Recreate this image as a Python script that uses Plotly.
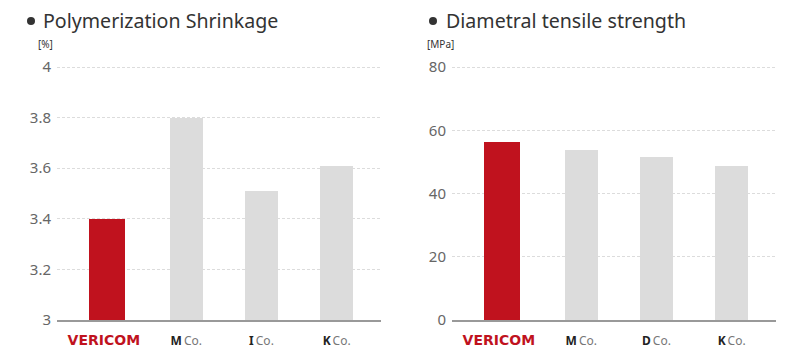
import plotly.graph_objects as go

# ---- data ----
shrink_companies = ["VERICOM", "M", "I", "K"]
shrink_values = [3.40, 3.80, 3.51, 3.61]
shrink_ticks = [3, 3.2, 3.4, 3.6, 3.8, 4]
shrink_tick_labels = ["3", "3.2", "3.4", "3.6", "3.8", "4"]

dts_companies = ["VERICOM", "M", "D", "K"]
dts_values = [56.3, 53.8, 51.4, 48.7]
dts_ticks = [0, 20, 40, 60, 80]
dts_tick_labels = ["0", "20", "40", "60", "80"]

titles = ["Polymerization Shrinkage", "Diametral tensile strength"]
units = ["[%]", "[MPa]"]

# ---- style ----
W, H = 809, 363
RED = "#C0121E"
GREY = "#DCDCDC"
FONT = "Noto Sans"


def fmt_label(c):
    if c == "VERICOM":
        return ("<span style='font-family:DejaVu Sans;font-weight:bold;font-size:14px;color:%s'>VERICOM\u00a0\u00a0\u00a0</span>" % RED)
    return ("<span style='color:#222;font-weight:bold'>%s</span>\u2009<span style='color:#777'>Co.</span>" % c)


def colors(cs):
    return [RED if c == "VERICOM" else GREY for c in cs]


def widths(cs):
    return [0.479 if c == "VERICOM" else 0.431 for c in cs]


def offsets(cs):
    return [-0.292 if c == "VERICOM" else -0.2155 for c in cs]


fig = go.Figure()
fig.add_trace(go.Bar(x=shrink_companies, y=shrink_values, marker=dict(color=colors(shrink_companies), line=dict(width=0)),
                     width=widths(shrink_companies), offset=offsets(shrink_companies),
                     xaxis="x", yaxis="y", showlegend=False, hoverinfo="skip"))
fig.add_trace(go.Bar(x=dts_companies, y=dts_values, marker=dict(color=colors(dts_companies), line=dict(width=0)),
                     width=widths(dts_companies), offset=offsets(dts_companies),
                     xaxis="x2", yaxis="y2", showlegend=False, hoverinfo="skip"))

xdom1 = [57 / W, 381 / W]
xdom2 = [452 / W, 776 / W]
PAD = 3  # px of headroom so the top gridline is drawn
ydom = [1 - 320 / H, 1 - (67 - PAD) / H]
pxh = 253.0

common_x = dict(type="category", showgrid=False, showline=True, linecolor="#999", linewidth=1.5,
                ticks="outside", ticklen=9, tickcolor="rgba(0,0,0,0)", automargin=False,
                tickfont=dict(family=FONT, size=12, color="#222"), range=[-0.72, 3.59], fixedrange=True)
common_y = dict(showgrid=True, gridcolor="#dcdcdc", griddash="3px,2px", gridwidth=1, zeroline=False,
                showline=False, ticks="", ticklabelstandoff=5, automargin=False,
                tickfont=dict(family=FONT, size=15, color="#666"), fixedrange=True)

fig.update_layout(
    width=W, height=H,
    margin=dict(l=0, r=0, t=0, b=0, autoexpand=False),
    paper_bgcolor="white", plot_bgcolor="white",
    bargap=0,
    xaxis=dict(domain=xdom1, anchor="y", tickvals=shrink_companies,
               ticktext=[fmt_label(c) for c in shrink_companies], **common_x),
    xaxis2=dict(domain=xdom2, anchor="y2", tickvals=dts_companies,
                ticktext=[fmt_label(c) for c in dts_companies], **common_x),
    yaxis=dict(domain=ydom, anchor="x", range=[3, 4 + PAD * 1 / pxh], tickvals=shrink_ticks,
               ticktext=shrink_tick_labels, **common_y),
    yaxis2=dict(domain=ydom, anchor="x2", range=[0, 80 + PAD * 80 / pxh], tickvals=dts_ticks,
                ticktext=dts_tick_labels, **common_y),
)

title_x = [41, 444]
bullet_x = [27, 429]
unit_x = [36, 425]
for t, u, tx, bx, ux in zip(titles, units, title_x, bullet_x, unit_x):
    fig.add_shape(type="circle", xref="paper", yref="paper",
                  x0=bx / W, x1=(bx + 8) / W, y0=1 - 25 / H, y1=1 - 17 / H,
                  fillcolor="#333", line=dict(width=0))
    fig.add_annotation(text=t, xref="paper", yref="paper",
                       x=tx / W, y=1 - 20 / H, xanchor="left", yanchor="middle", showarrow=False,
                       font=dict(family=FONT, size=19.6, color="#333"))
    fig.add_annotation(text=u, xref="paper", yref="paper",
                       x=ux / W, y=1 - 44 / H, xanchor="left", yanchor="middle", showarrow=False,
                       font=dict(family=FONT, size=10, color="#333"))

fig.write_html("out.html", config={"displayModeBar": False, "staticPlot": True},
               post_script="document.body.style.margin='0px';")
